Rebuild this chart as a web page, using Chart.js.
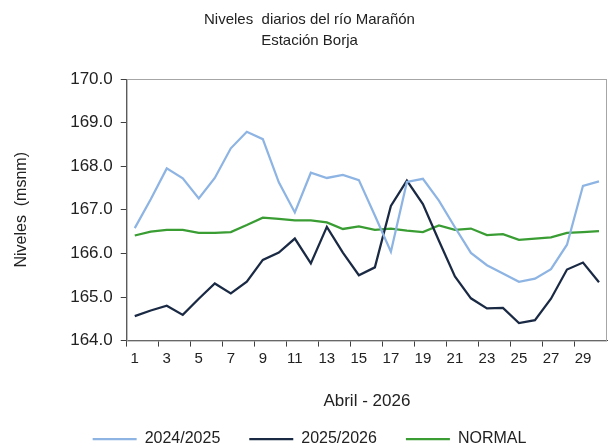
<!DOCTYPE html>
<html>
<head>
<meta charset="utf-8">
<script src="https://cdn.jsdelivr.net/npm/chart.js@4"></script>
<style>
  body { margin: 0; background: #fff; }
  #wrap { width: 613px; height: 448px; }
</style>
</head>
<body>
<div id="wrap"><canvas id="chart"></canvas></div>
<script>
const days = ['1','2','3','4','5','6','7','8','9','10','11','12','13','14','15',
  '16','17','18','19','20','21','22','23','24','25','26','27','28','29','30'];

const serie2425 = [166.58, 167.24, 167.95, 167.72, 167.26, 167.73, 168.41, 168.79, 168.62, 167.63,
  166.94, 167.85, 167.73, 167.80, 167.68, 166.87, 166.04, 167.64, 167.71, 167.21,
  166.60, 166.01, 165.73, 165.54, 165.35, 165.42, 165.64, 166.20, 167.55, 167.65];

const serie2526 = [164.56, 164.69, 164.80, 164.59, 164.96, 165.31, 165.08, 165.35, 165.85, 166.02,
  166.34, 165.77, 166.61, 166.02, 165.50, 165.68, 167.09, 167.67, 167.13, 166.29,
  165.47, 164.97, 164.74, 164.75, 164.40, 164.47, 164.96, 165.63, 165.79, 165.34];

const normal = [166.41, 166.50, 166.54, 166.54, 166.47, 166.47, 166.49, 166.65, 166.82, 166.79,
  166.76, 166.76, 166.71, 166.56, 166.62, 166.54, 166.57, 166.52, 166.49, 166.64,
  166.54, 166.57, 166.42, 166.44, 166.31, 166.34, 166.37, 166.47, 166.49, 166.51];

const FONT = "'Liberation Sans', Arial, sans-serif";

// gray frame around the plot area (top/right sides show)
const frame = {
  id: 'frame',
  beforeDatasetsDraw(chart) {
    const { ctx, chartArea } = chart;
    ctx.save();
    ctx.strokeStyle = '#a6a6a6';
    ctx.lineWidth = 1;
    ctx.strokeRect(chartArea.left + 0.5, chartArea.top + 0.5,
      chartArea.right - chartArea.left - 1, chartArea.bottom - chartArea.top);
    ctx.restore();
  }
};

Chart.defaults.font.family = FONT;
Chart.defaults.color = '#222';

new Chart(document.getElementById('chart'), {
  type: 'line',
  data: {
    labels: days,
    datasets: [
      { label: '2024/2025', data: serie2425, borderColor: '#8db4e3', backgroundColor: '#8db4e3', borderWidth: 2.25 },
      { label: '2025/2026', data: serie2526, borderColor: '#1b2a44', backgroundColor: '#1b2a44', borderWidth: 2.25 },
      { label: 'NORMAL', data: normal, borderColor: '#3a9d34', backgroundColor: '#3a9d34', borderWidth: 2.25 }
    ]
  },
  options: {
    responsive: true,
    maintainAspectRatio: false,
    animation: false,
    elements: { point: { radius: 0 }, line: { tension: 0 } },
    layout: { padding: { left: 12, right: 6, top: 9, bottom: -9 } },
    plugins: {
      title: {
        display: true,
        text: ['Niveles  diarios del río Marañón', 'Estación Borja'],
        font: { size: 15, weight: 'normal', lineHeight: 1.4 },
        color: '#222',
        padding: { top: 0, bottom: 28 }
      },
      legend: {
        position: 'bottom',
        labels: {
          usePointStyle: true,
          pointStyle: 'line',
          pointStyleWidth: 44,
          font: { size: 16 },
          color: '#222',
          padding: 29
        }
      },
      tooltip: { enabled: false }
    },
    scales: {
      x: {
        offset: true,
        grid: {
          offset: true,
          drawOnChartArea: false,
          tickLength: 6,
          tickColor: (c) => (c.index % 2 === 0 ? '#404040' : 'rgba(0,0,0,0)')
        },
        border: { color: '#404040', width: 1 },
        ticks: {
          autoSkip: false,
          maxRotation: 0,
          font: { size: 15 },
          color: '#222',
          callback: (v, i) => (i % 2 === 0 ? days[i] : '')
        },
        title: {
          display: true,
          text: 'Abril - 2026',
          font: { size: 17 },
          color: '#222',
          padding: { top: 21, bottom: -10 }
        }
      },
      y: {
        min: 164,
        max: 170,
        grid: { drawOnChartArea: false, tickLength: 6, tickColor: '#404040' },
        border: { color: '#404040', width: 1 },
        ticks: {
          stepSize: 1,
          font: { size: 17 },
          color: '#222',
          padding: 8,
          callback: (v) => Number(v).toFixed(1)
        },
        title: {
          display: true,
          text: 'Niveles  (msnm)',
          font: { size: 16 },
          color: '#222',
          padding: { top: 0, bottom: 31 }
        }
      }
    }
  },
  plugins: [frame]
});
</script>
</body>
</html>
